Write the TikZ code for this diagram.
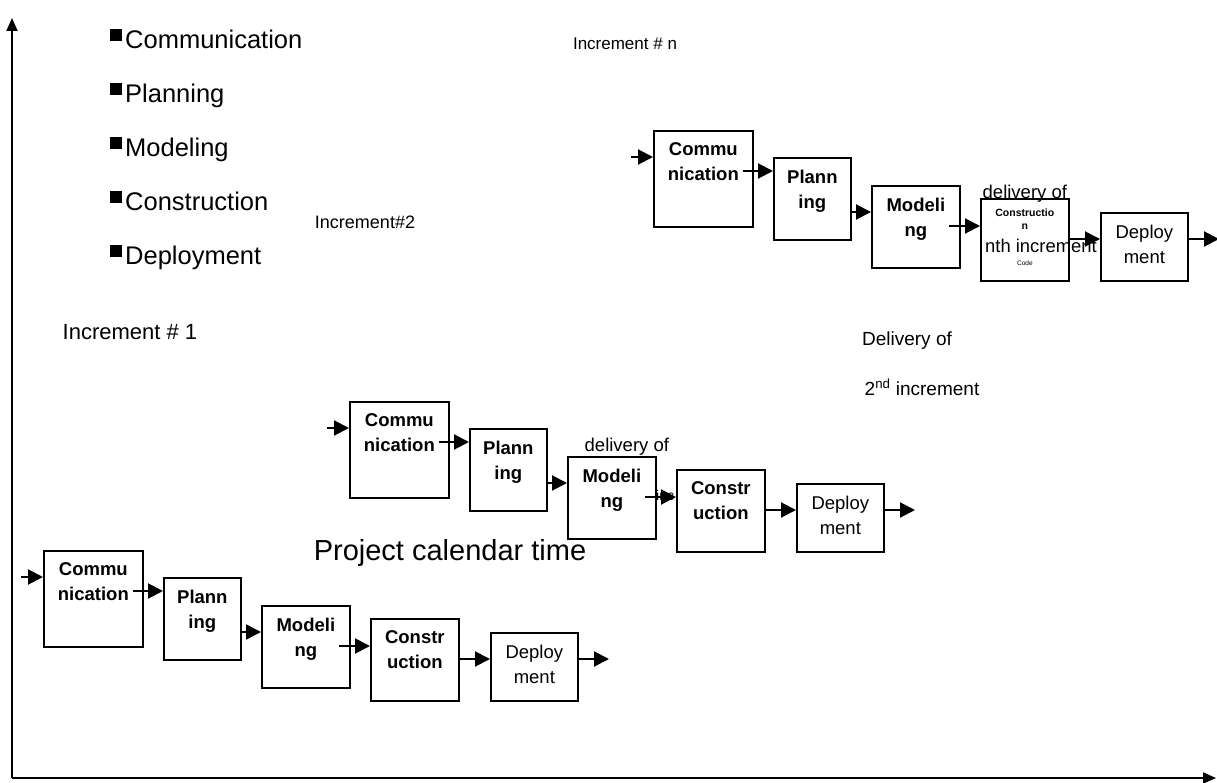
\documentclass[tikz,border=0pt]{standalone}
\usepackage{fontspec}
\setmainfont{Liberation Sans}
\usetikzlibrary{arrows.meta,positioning}

\tikzset{
  stage/.style={draw,line width=1.7pt,fill=white,anchor=north west,inner sep=0pt},
  stagetext/.style={anchor=north,align=center,inner sep=0pt,
    font=\fontsize{18.5}{25}\selectfont\bfseries},
  flow/.style={line width=2pt,-{Triangle[length=15pt,width=15pt]}},
  axis/.style={line width=1.8pt,-{Triangle[length=13pt,width=11pt]}},
  lbl/.style={anchor=base,inner sep=0pt},
  sq/.style={fill,minimum size=12pt,inner sep=0pt,anchor=north east}
}

\begin{document}
\begin{tikzpicture}[x=1pt,y=-1pt]
\useasboundingbox (0,0) rectangle (1217,783);

% axes
\coordinate (origin) at (12,778);
\coordinate (ytop) at (12,18);
\coordinate (xend) at (1216,778);
\draw[axis] (origin) -- (ytop);
\draw[axis] (origin) -- (xend);

% activities
\foreach \t [count=\i] in {Communication,Planning,Modeling,Construction,Deployment}{
  \node[anchor=base west,inner sep=0pt,font=\fontsize{25.5}{30}\selectfont] (item\i) at (125,{49+54*(\i-1)}) {\t};
  \node[sq] (sq\i) at ([xshift=-3pt,yshift=20.5pt]item\i.base west) {};
}

\node[lbl,font=\fontsize{17}{20}\selectfont] (incn) at (625,50) {Increment \# n};
\node[lbl,font=\fontsize{18}{22}\selectfont] (inc2) at (365,229) {Increment\#2};
\node[lbl,font=\fontsize{22}{26}\selectfont] (inc1) at (130,339) {Increment \# 1};
\node[lbl,font=\fontsize{19}{22}\selectfont] (deliv2) at (907,345) {Delivery of};
\node[lbl,font=\fontsize{19}{22}\selectfont] (deliv2b) at (922,395) {2\textsuperscript{nd} increment};
\node[lbl,font=\fontsize{29}{34}\selectfont] (calendar) at (450,560) {Project calendar time};
% cut off by the 2nd construction box
\node[anchor=base west,inner sep=0pt,font=\fontsize{14}{16}\selectfont] (deliv1b) at (656,500) {inc};

% the three increments
\foreach \p/\sx/\sy in {a/43/550,b/349/401,n/653/130}{
\begin{scope}[shift={(\sx,\sy)},name prefix=\p-]
  \node[stage,minimum width=99pt,minimum height=96pt] (comm) at (0,0) {};
  \node[stage,minimum width=77pt,minimum height=82pt] (plan) at (120,27) {};
  \node[stage,minimum width=88pt,minimum height=82pt] (model) at (218,55) {};
  \node[stage,minimum width=88pt,minimum height=82pt] (constr) at (327,68) {};
  \node[stage,minimum width=87pt,minimum height=68pt] (deploy) at (447,82) {};
  \node[stagetext] (commtxt) at ([yshift=-12.5pt]comm.north) {Commu\\nication};
  \node[stagetext] (plantxt) at ([yshift=-12.5pt]plan.north) {Plann\\ing};
  \node[stagetext] (modeltxt) at ([yshift=-12.5pt]model.north) {Modeli\\ng};
  \node[stagetext,font=\fontsize{18.5}{25}\selectfont] (deploytxt) at ([yshift=-12.5pt]deploy.north) {Deploy\\ment};
  \coordinate (in) at (-22,27);
  \coordinate (out) at (566,109);
  \draw[flow] (in) -- ([yshift=-27pt]comm.north west);
  \draw[flow] ([xshift=-11pt,yshift=-41pt]comm.north east) -- ([yshift=-14pt]plan.north west);
  \draw[flow] ([yshift=-55pt]plan.north east) -- ([yshift=-27pt]model.north west);
  \draw[flow] ([xshift=-12pt,yshift=-41pt]model.north east) -- ([yshift=-28pt]constr.north west);
  \draw[flow] ([yshift=-41pt]constr.north east) -- ([yshift=-27pt]deploy.north west);
  \draw[flow] ([yshift=-27pt]deploy.north east) -- (out);
\end{scope}
}

\node[stagetext] (a-constrtxt) at ([yshift=-12.5pt]a-constr.north) {Constr\\uction};
\node[stagetext] (b-constrtxt) at ([yshift=-12.5pt]b-constr.north) {Constr\\uction};
\node[stagetext,font=\fontsize{10.5}{13}\selectfont\bfseries] (n-constrtxt) at ([yshift=-10.5pt]n-constr.north) {Constructio\\n};
\node[anchor=base west,inner sep=0pt,font=\fontsize{18.4}{22}\selectfont] (nthtxt) at ([xshift=5pt,yshift=-55pt]n-constr.north west) {nth increment};
\node[lbl,font=\fontsize{6.5}{8}\selectfont] (codetxt) at ([yshift=-68pt]n-constr.north) {Code};
\node[lbl,font=\fontsize{18.5}{22}\selectfont] (delivn) at ([yshift=-1pt]n-constr.north) {delivery of};
\node[lbl,font=\fontsize{18.5}{22}\selectfont] (deliv1) at ([xshift=15pt,yshift=5pt]b-model.north) {delivery of};
\end{tikzpicture}
\end{document}
